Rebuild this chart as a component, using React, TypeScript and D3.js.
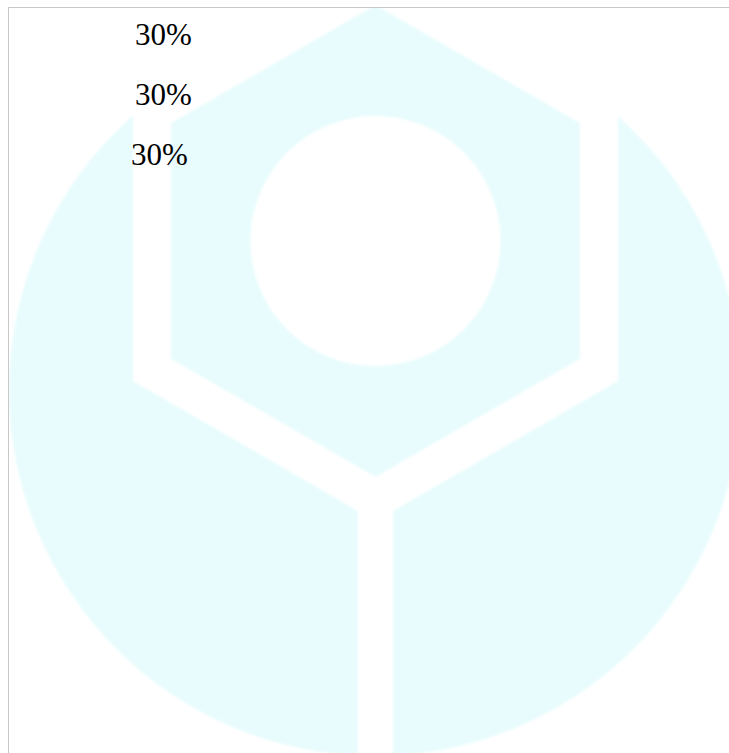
import { useEffect, useRef } from 'react';
import * as d3 from 'd3';

// Pie labels (the slices themselves come out as the pale watermark behind them)
const sliceLabels = ['30%', '30%', '30%'];
const sliceValues = [30, 30, 30];

export default function App() {
  const svgRef = useRef<SVGSVGElement>(null);

  useEffect(() => {
    if (!svgRef.current) return;

    const width = 721;
    const height = 746;
    const fill = '#e9fcfd';

    const svg = d3.select(svgRef.current);
    svg.selectAll('*').remove();
    svg.attr('width', width).attr('height', height);

    const defs = svg.append('defs');
    defs
      .append('clipPath')
      .attr('id', 'disc')
      .append('circle')
      .attr('cx', 367)
      .attr('cy', 383)
      .attr('r', 366);
    defs
      .append('filter')
      .attr('id', 'soft')
      .append('feGaussianBlur')
      .attr('stdDeviation', 1.2);

    // Logo geometry
    const cx = 367.5;
    const cy = 234;
    const innerR = 236;
    const outerR = 280;
    const gap = 17.5;
    const cos30 = Math.cos(Math.PI / 6);
    const tan30 = Math.tan(Math.PI / 6);

    const hexagon = (r: number) =>
      d3.range(6).map((i) => {
        const a = ((-90 + 60 * i) * Math.PI) / 180;
        return [cx + r * Math.cos(a), cy + r * Math.sin(a)] as [number, number];
      });

    const line = d3.line().curve(d3.curveLinearClosed);
    const logo = svg.append('g').attr('filter', 'url(#soft)');

    // Top face: hexagon with a hole
    logo.append('path').attr('d', line(hexagon(innerR))).attr('fill', fill);
    logo
      .append('path')
      .attr('d', d3.arc()({ innerRadius: 0, outerRadius: 125, startAngle: 0, endAngle: 2 * Math.PI }))
      .attr('transform', `translate(${cx},${cy})`)
      .attr('fill', '#fff');

    // Side faces (left / right), clipped to the disc
    const sx = cx - outerR * cos30;
    const sy = cy + outerR / 2;
    const gy = cy + outerR - gap * tan30;
    const sides = d3.pie<number>().sort(null)(sliceValues.slice(0, 2)).map((d, i) => {
      const s = i === 0 ? -1 : 1;
      const pts: [number, number][] = [
        [cx + s * (cx - sx), -20],
        [cx + s * (cx - sx), sy],
        [cx + s * gap, gy],
        [cx + s * gap, height + 40],
        [cx + s * (width + 40), height + 40],
        [cx + s * (width + 40), -20],
      ];
      return { d, pts };
    });

    logo
      .append('g')
      .attr('clip-path', 'url(#disc)')
      .selectAll('path')
      .data(sides)
      .join('path')
      .attr('d', (p) => line(p.pts))
      .attr('fill', fill);

    // Border (only top and left fall inside the window)
    svg
      .append('rect')
      .attr('x', 0.5)
      .attr('y', 0.5)
      .attr('width', width + 40)
      .attr('height', height + 40)
      .attr('fill', 'none')
      .attr('stroke', '#c8c8c8');

    // Labels
    const yScale = d3
      .scalePoint<number>()
      .domain(d3.range(sliceLabels.length))
      .range([38, 158]);
    const xNudge = [0, 0, -4];

    svg
      .append('g')
      .selectAll('text')
      .data(sliceLabels)
      .join('text')
      .attr('x', (_, i) => 127 + xNudge[i])
      .attr('y', (_, i) => yScale(i) ?? 0)
      .style('font-family', "'Liberation Serif', 'Times New Roman', serif")
      .style('font-size', '31px')
      .attr('fill', '#000')
      .text((d) => d);
  }, []);

  return (
    <svg ref={svgRef} style={{ display: 'block', position: 'absolute', left: 8, top: 7 }} />
  );
}
